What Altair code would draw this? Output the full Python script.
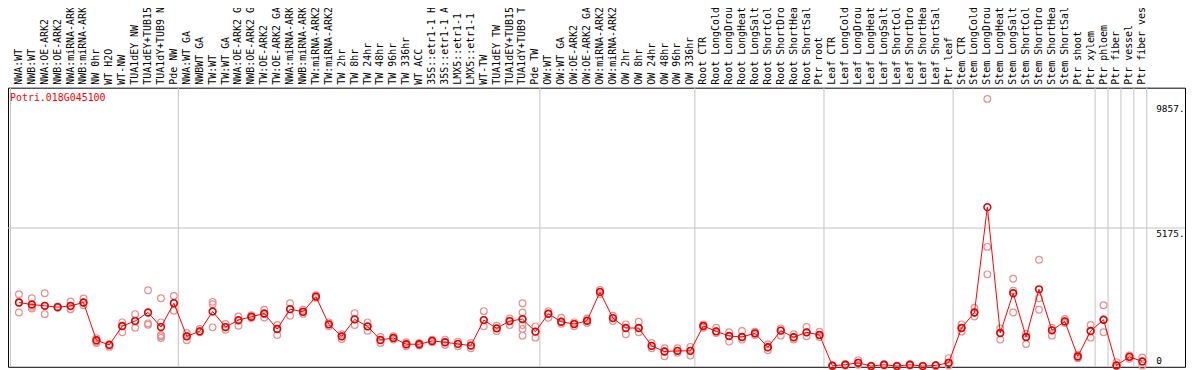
import altair as alt
import pandas as pd

GENE = "Potri.018G045100"

group_nw = ["NWA:WT", "NWB:WT", "NWA:OE-ARK2", "NWB:OE-ARK2", "NWA:miRNA-ARK2",
            "NWB:miRNA-ARK2", "NW 0hr", "WT H2O", "WT-NW", "TUA1dEY NW",
            "TUA1dEY+TUB15 NW", "TUA1dY+TUB9 NW", "Pde NW"]
group_tw = ["NWA:WT GA", "NWBWT GA", "TW:WT", "TW:WT GA", "NWA:OE-ARK2 GA",
            "NWB:OE-ARK2 GA", "TW:OE-ARK2", "TW:OE-ARK2 GA", "NWA:miRNA-ARK2",
            "NWB:miRNA-ARK2", "TW:miRNA-ARK2", "TW:miRNA-ARK2", "TW 2hr", "TW 8hr",
            "TW 24hr", "TW 48hr", "TW 96hr", "TW 336hr", "WT ACC",
            "35S::etr1-1 H2O", "35S::etr1-1 ACC", "LMX5::etr1-1 H2O",
            "LMX5::etr1-1 ACC", "WT-TW", "TUA1dEY TW", "TUA1dEY+TUB15 TW",
            "TUA1dY+TUB9 TW", "Pde TW"]
group_ow = ["OW:WT", "OW:WT GA", "OW:OE-ARK2", "OW:OE-ARK2 GA", "OW:miRNA-ARK2",
            "OW:miRNA-ARK2", "OW 2hr", "OW 8hr", "OW 24hr", "OW 48hr", "OW 96hr",
            "OW 336hr"]
conds = ["CTR", "LongCold", "LongDrought", "LongHeat", "LongSalt", "ShortCold",
         "ShortDrought", "ShortHeat", "ShortSalt"]
group_root = ["Root " + c for c in conds] + ["Ptr root"]
group_leaf = ["Leaf " + c for c in conds] + ["Ptr leaf"]
group_stem = ["Stem " + c for c in conds] + ["Ptr shoot", "Ptr xylem"]
group_ptr = ["Ptr phloem", "Ptr fiber", "Ptr vessel", "Ptr fiber vessel"]

labels = group_nw + group_tw + group_ow + group_root + group_leaf + group_stem + group_ptr
group_sizes = [13, 28, 12, 10, 10, 11, 1, 1, 1, 1]

means = [
    2383, 2308, 2259, 2209, 2259, 2383, 968, 794, 1502, 1688, 2010, 1464, 2358,
    1117, 1303, 2048, 1464, 1725, 1849, 1973, 1390, 2134, 2035, 2606, 1564, 1117,
    1750, 1489, 980, 1055, 819, 819, 943, 893, 831, 769, 1725, 1415, 1688, 1762, 1291,
    1961, 1663, 1576, 1700, 2780, 1799, 1427, 1427, 757, 546, 571, 571,
    1502, 1303, 1129, 1092, 1229, 707, 1328, 1080, 1266, 1167,
    12, 50, 124, 0, 50, 0, 50, 0, 25, 124,
    1427, 2010, 5957, 1241, 2730, 1092, 2879, 1340, 1675, 360, 1315,
    1737, 25, 347, 174,
]

replicates = [
    [2693, 2383, 2010], [2544, 2221, 2159], [2730, 2259, 1948], [2234, 2209, 2184],
    [2420, 2234, 2134], [2532, 2383, 2283], [1042, 918, 869], [819, 769, 720],
    [1638, 1489, 1266], [1948, 1700, 1440], [2842, 1601, 1551],
    [2544, 1638, 1166, 1117, 1055], [2631, 2358, 2072],
    [1241, 1117, 968], [1390, 1303, 1266], [2408, 2321, 1452], [1576, 1464, 1365],
    [1861, 1700, 1514], [1911, 1849, 1799], [2110, 1948, 1824], [1539, 1390, 1166],
    [2358, 2134, 1886], [2110, 2035, 1961], [2656, 2606, 2556], [1638, 1564, 1489],
    [1191, 1117, 1018], [1986, 1750, 1539], [1638, 1489, 1328], [1092, 980, 869],
    [1117, 1055, 993], [894, 819, 745], [869, 819, 769], [993, 943, 894],
    [993, 893, 794], [918, 831, 745], [869, 769, 670], [2060, 1725, 1489],
    [1514, 1415, 1315], [1787, 1688, 1539], [2358, 2010, 1762, 1539, 1390, 1142],
    [1489, 1291, 1067],
    [2060, 1961, 1812], [1812, 1663, 1588], [1638, 1576, 1489], [1787, 1700, 1613],
    [2854, 2780, 2705], [1886, 1799, 1688], [1564, 1427, 1191], [1663, 1427, 1266],
    [869, 757, 670], [670, 546, 372], [670, 571, 496], [720, 571, 397],
    [1564, 1502, 1440], [1440, 1303, 1241], [1266, 1129, 918], [1315, 1092, 993],
    [1291, 1229, 1167], [819, 707, 596], [1415, 1328, 1142], [1191, 1080, 993],
    [1464, 1266, 1117], [1291, 1167, 1092],
    [0, 12, 25], [25, 50, 75], [223, 124, 50], [0, 0, 12], [25, 50, 75],
    [0, 0, 12], [25, 50, 75], [0, 0, 12], [12, 25, 37], [298, 124, 25],
    [1564, 1427, 1291], [2184, 2010, 1862], [10015, 4468, 3438], [1415, 1241, 993],
    [3276, 2829, 2010], [1216, 1092, 831], [3984, 2544, 2110], [1440, 1340, 1142],
    [1762, 1675, 1613], [422, 360, 298], [1539, 1315, 1067],
    [2283, 1737, 1266], [149, 25, 0], [397, 347, 273], [323, 174, 25],
]

tick_values = [0, 5175, 9857]
tick_labels = ["0", "5175.", "9857."]
grid_values = [5175]

# ---- tables built from the arrays above ----
cols = pd.DataFrame({"i": list(range(len(labels))), "label": labels, "mean": means})
reps = pd.DataFrame(
    [{"i": i, "value": v} for i, vals in enumerate(replicates) for v in vals]
)
starts = [0]
for s in group_sizes:
    starts.append(starts[-1] + s)
BOUND_SHIFT = -0.654
bounds = pd.DataFrame({"b": [s + BOUND_SHIFT for s in starts]})
ticks = pd.DataFrame({"v": tick_values, "t": tick_labels})
grid = pd.DataFrame({"v": grid_values})

# ---- layout ----
STEP = 13
W, H = 1185, 281
x0 = -11 / STEP
xscale = alt.Scale(domain=[x0, x0 + W / STEP], nice=False, zero=False)
yscale = alt.Scale(domain=[-26.1, 10435.6], nice=False, zero=False)
FONT = "DejaVu Sans Mono"

X = alt.X("i:Q", scale=xscale, axis=None)

vrules = alt.Chart(bounds).mark_rule(color="#c4c4c4", strokeWidth=1).encode(
    x=alt.X("b:Q", scale=xscale, axis=None)
)
hrules = alt.Chart(grid).mark_rule(color="#c4c4c4", strokeWidth=1).encode(
    y=alt.Y("v:Q", scale=yscale, axis=None)
)
rep_pts = alt.Chart(reps).mark_point(
    shape="circle", filled=False, size=46, strokeWidth=1.2, color="#ee8f8f", opacity=1
).encode(x=X, y=alt.Y("value:Q", scale=yscale, axis=None))
line = alt.Chart(cols).mark_line(color="#ff0000", strokeWidth=1).encode(
    x=X, y=alt.Y("mean:Q", scale=yscale, axis=None)
)
mean_pts = alt.Chart(cols).mark_point(
    shape="circle", filled=False, size=46, strokeWidth=1.6, color="#e00000", opacity=1
).encode(x=X, y=alt.Y("mean:Q", scale=yscale, axis=None))

top_labels = alt.Chart(cols).mark_text(
    angle=270, align="left", baseline="middle", font=FONT, fontSize=10, color="black"
).encode(x=X, y=alt.value(-3), text="label:N")

gene = alt.Chart(pd.DataFrame({"g": [GENE]})).mark_text(
    align="left", baseline="middle", font=FONT, fontSize=10, color="#ff0000"
).encode(x=alt.value(2), y=alt.value(10), text="g:N")

tick_top = alt.Chart(ticks[ticks.v > 0]).mark_text(
    align="left", baseline="top", dy=1, font=FONT, fontSize=9.5, color="black"
).encode(x=alt.value(1156), y=alt.Y("v:Q", scale=yscale, axis=None), text="t:N")
tick_bot = alt.Chart(ticks[ticks.v == 0]).mark_text(
    align="left", baseline="bottom", font=FONT, fontSize=9.5, color="black"
).encode(x=alt.value(1156), y=alt.Y("v:Q", scale=yscale, axis=None), text="t:N")

chart = alt.layer(
    vrules, hrules, rep_pts, line, mean_pts, top_labels, gene, tick_top, tick_bot
).properties(
    width=W,
    height=H,
    autosize=alt.AutoSizeParams(type="none"),
    padding={"left": 0, "top": 79, "right": 1, "bottom": 2},
    background="white",
).configure_view(stroke="black", strokeWidth=1)

chart.save("out.html", embed_options={"renderer": "svg", "actions": False})
